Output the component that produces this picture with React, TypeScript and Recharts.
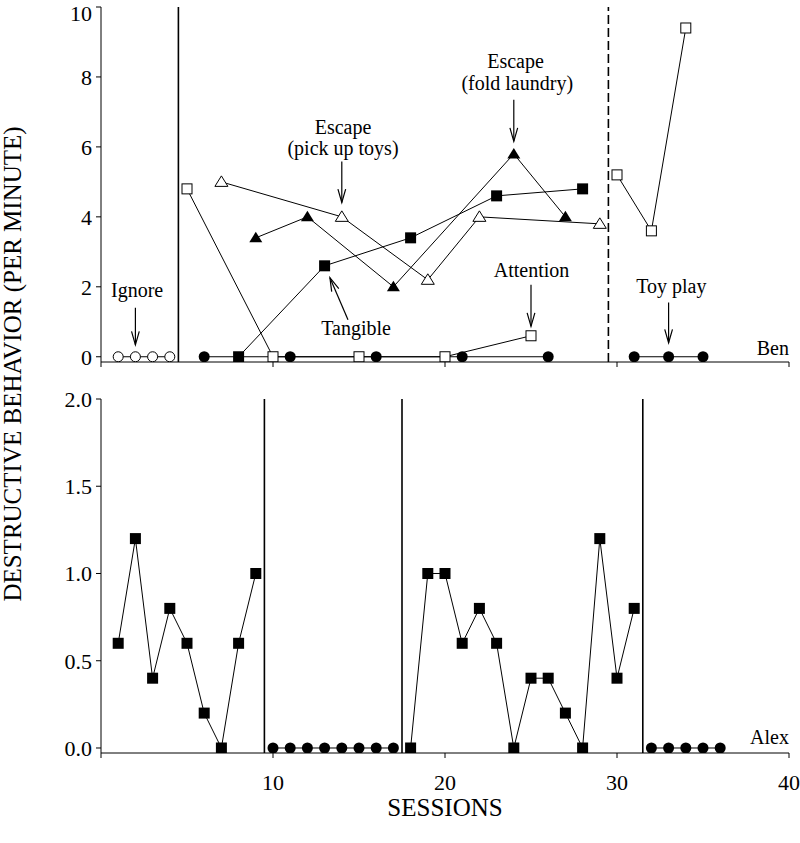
import React from 'react';
import { ScatterChart, Scatter, XAxis, YAxis, ReferenceLine, ReferenceDot } from 'recharts';

// Ben (top panel) - sessions and rate per minute, one pair per condition
const benIgnoreSessions = [1, 2, 3, 4];
const benIgnoreRate = [0, 0, 0, 0];
const benPlaySessions = [6, 11, 16, 21, 26];
const benPlayRate = [0, 0, 0, 0, 0];
const benAttentionSessions = [5, 10, 15, 20, 25];
const benAttentionRate = [4.8, 0, 0, 0, 0.6];
const benTangibleSessions = [8, 13, 18, 23, 28];
const benTangibleRate = [0, 2.6, 3.4, 4.6, 4.8];
const benToysSessions = [7, 14, 19, 22, 29];
const benToysRate = [5.0, 4.0, 2.2, 4.0, 3.8];
const benLaundrySessions = [9, 12, 17, 24, 27];
const benLaundryRate = [3.4, 4.0, 2.0, 5.8, 4.0];
const benAttention2Sessions = [30, 32, 34];
const benAttention2Rate = [5.2, 3.6, 9.4];
const benToyPlaySessions = [31, 33, 35];
const benToyPlayRate = [0, 0, 0];
const benPhaseChanges = [4.5];
const benDashedChanges = [29.5];

// Alex (bottom panel)
const alexBase1Sessions = [1, 2, 3, 4, 5, 6, 7, 8, 9];
const alexBase1Rate = [0.6, 1.2, 0.4, 0.8, 0.6, 0.2, 0, 0.6, 1.0];
const alexPlay1Sessions = [10, 11, 12, 13, 14, 15, 16, 17];
const alexPlay1Rate = [0, 0, 0, 0, 0, 0, 0, 0];
const alexBase2Sessions = [18, 19, 20, 21, 22, 23, 24, 25, 26, 27, 28, 29, 30, 31];
const alexBase2Rate = [0, 1.0, 1.0, 0.6, 0.8, 0.6, 0, 0.4, 0.4, 0.2, 0, 1.2, 0.4, 0.8];
const alexPlay2Sessions = [32, 33, 34, 35, 36];
const alexPlay2Rate = [0, 0, 0, 0, 0];
const alexPhaseChanges = [9.5, 17.5, 31.5];

const xTicks = [0, 10, 20, 30, 40];
const benYTicks = [0, 2, 4, 6, 8, 10];
const alexYTicks = [0, 0.5, 1, 1.5, 2];

// annotation text (session, rate) and arrows
const benNotes = [
  { x: 2.1, y: 1.9, text: 'Ignore' },
  { x: 14.07, y: 6.58, text: 'Escape' },
  { x: 14.07, y: 5.98, text: '(pick up toys)' },
  { x: 24.1, y: 8.45, text: 'Escape' },
  { x: 24.2, y: 7.83, text: '(fold laundry)' },
  { x: 25.03, y: 2.49, text: 'Attention' },
  { x: 14.83, y: 0.83, text: 'Tangible' },
  { x: 33.16, y: 2.01, text: 'Toy play' },
];
const benArrows = [
  { from: { x: 2, y: 1.4 }, to: { x: 2, y: 0.34 } },
  { from: { x: 14, y: 5.58 }, to: { x: 14, y: 4.41 } },
  { from: { x: 24, y: 7.35 }, to: { x: 24, y: 6.16 } },
  { from: { x: 25, y: 2.06 }, to: { x: 25, y: 0.87 } },
  { from: { x: 14.36, y: 1.06 }, to: { x: 13.31, y: 2.26 } },
  { from: { x: 33, y: 1.55 }, to: { x: 33, y: 0.4 } },
];

const ink = '#000';
const serif = '"Liberation Serif", "Times New Roman", serif';

const pts = (xs: number[], ys: number[]) => xs.map((x, i) => ({ x, y: ys[i] }));

const openCircle = (p: any) => <circle cx={p.cx} cy={p.cy} r={5} fill="#fff" stroke={ink} strokeWidth={1} />;
const filledCircle = (p: any) => <circle cx={p.cx} cy={p.cy} r={5.5} fill={ink} />;
const openSquare = (p: any) => <rect x={p.cx - 5} y={p.cy - 5} width={10} height={10} fill="#fff" stroke={ink} strokeWidth={1} />;
const filledSquare = (p: any) => <rect x={p.cx - 5.5} y={p.cy - 5.5} width={11} height={11} fill={ink} />;
const triPath = (cx: number, cy: number) => `M${cx},${cy - 6} L${cx + 6.5},${cy + 4.5} L${cx - 6.5},${cy + 4.5} Z`;
const openTriangle = (p: any) => <path d={triPath(p.cx, p.cy)} fill="#fff" stroke={ink} strokeWidth={1} />;
const filledTriangle = (p: any) => <path d={triPath(p.cx, p.cy)} fill={ink} />;

const arrowShape = (p: any) => {
  const { x1, y1, x2, y2 } = p;
  const ang = Math.atan2(y2 - y1, x2 - x1);
  const len = 14;
  const spread = 0.28;
  const ax = x2 - len * Math.cos(ang - spread);
  const ay = y2 - len * Math.sin(ang - spread);
  const bx = x2 - len * Math.cos(ang + spread);
  const by = y2 - len * Math.sin(ang + spread);
  return (
    <g>
      <line x1={x1} y1={y1} x2={x2} y2={y2} stroke={ink} strokeWidth={1.2} />
      <polyline points={`${ax},${ay} ${x2},${y2} ${bx},${by}`} fill="none" stroke={ink} strokeWidth={1.2} />
    </g>
  );
};

const noteShape = (text: string, anchor: 'middle' | 'end' = 'middle') => (p: any) => (
  <text x={p.cx} y={p.cy} dy="0.35em" textAnchor={anchor} fontFamily={serif} fontSize={20} fill={ink}>
    {text}
  </text>
);

const line = { stroke: ink, strokeWidth: 1 };
const axisProps = {
  stroke: ink,
  tickLine: { stroke: ink },
  tickSize: 5,
  tick: { fontFamily: serif, fontSize: 22, fill: ink },
};

export default function App() {
  return (
    <div style={{ position: 'absolute', left: 0, top: 0, width: 800, height: 843, background: '#fff' }}>
      <div style={{ position: 'absolute', left: 0, top: 0 }}>
        <ScatterChart width={800} height={400} margin={{ top: 7, right: 11, bottom: 8, left: 0 }}>
          <XAxis type="number" dataKey="x" domain={[0, 40]} ticks={xTicks} height={30} {...axisProps} tickFormatter={() => ''} />
          <YAxis type="number" dataKey="y" domain={[-0.15, 10]} ticks={benYTicks} width={101} tickMargin={4} allowDataOverflow {...axisProps} />
          {benPhaseChanges.map((x) => (
            <ReferenceLine key={'p' + x} x={x} stroke={ink} strokeWidth={1.6} />
          ))}
          {benDashedChanges.map((x) => (
            <ReferenceLine key={'d' + x} x={x} stroke={ink} strokeWidth={1.6} strokeDasharray="9 4" />
          ))}
          <Scatter data={pts(benIgnoreSessions, benIgnoreRate)} line={line} shape={openCircle} isAnimationActive={false} />
          <Scatter data={pts(benPlaySessions, benPlayRate)} line={line} shape={filledCircle} isAnimationActive={false} />
          <Scatter data={pts(benTangibleSessions, benTangibleRate)} line={line} shape={filledSquare} isAnimationActive={false} />
          <Scatter data={pts(benToysSessions, benToysRate)} line={line} shape={openTriangle} isAnimationActive={false} />
          <Scatter data={pts(benLaundrySessions, benLaundryRate)} line={line} shape={filledTriangle} isAnimationActive={false} />
          <Scatter data={pts(benAttentionSessions, benAttentionRate)} line={line} shape={openSquare} isAnimationActive={false} />
          <Scatter data={pts(benAttention2Sessions, benAttention2Rate)} line={line} shape={openSquare} isAnimationActive={false} />
          <Scatter data={pts(benToyPlaySessions, benToyPlayRate)} line={line} shape={filledCircle} isAnimationActive={false} />
          {benArrows.map((a, i) => (
            <ReferenceLine key={'a' + i} segment={[a.from, a.to]} shape={arrowShape} />
          ))}
          {benNotes.map((n, i) => (
            <ReferenceDot key={'n' + i} x={n.x} y={n.y} r={0} shape={noteShape(n.text)} />
          ))}
          <ReferenceDot x={40} y={0.26} r={0} shape={noteShape('Ben', 'end')} />
        </ScatterChart>
      </div>
      <div style={{ position: 'absolute', left: 0, top: 380 }}>
        <ScatterChart width={800} height={463} margin={{ top: 19, right: 11, bottom: 40, left: 0 }}>
          <XAxis
            type="number"
            dataKey="x"
            domain={[0, 40]}
            ticks={xTicks}
            height={50}
            tickMargin={16}
            {...axisProps}
            tickFormatter={(v: number) => (v === 0 ? '' : String(v))}
          />
          <YAxis
            type="number"
            dataKey="y"
            domain={[-0.0287, 2]}
            ticks={alexYTicks}
            width={101}
            tickMargin={4}
            allowDataOverflow
            {...axisProps}
            tickFormatter={(v: number) => v.toFixed(1)}
          />
          {alexPhaseChanges.map((x) => (
            <ReferenceLine key={'p' + x} x={x} stroke={ink} strokeWidth={1.6} />
          ))}
          <Scatter data={pts(alexBase1Sessions, alexBase1Rate)} line={line} shape={filledSquare} isAnimationActive={false} />
          <Scatter data={pts(alexPlay1Sessions, alexPlay1Rate)} line={line} shape={filledCircle} isAnimationActive={false} />
          <Scatter data={pts(alexBase2Sessions, alexBase2Rate)} line={line} shape={filledSquare} isAnimationActive={false} />
          <Scatter data={pts(alexPlay2Sessions, alexPlay2Rate)} line={line} shape={filledCircle} isAnimationActive={false} />
          <ReferenceDot x={40} y={0.063} r={0} shape={noteShape('Alex', 'end')} />
        </ScatterChart>
      </div>
      <svg width={800} height={843} style={{ position: 'absolute', left: 0, top: 0, pointerEvents: 'none' }}>
        <text transform="rotate(-90)" x={-364} y={21} textAnchor="middle" fontFamily={serif} fontSize={25} fill={ink}>
          DESTRUCTIVE BEHAVIOR (PER MINUTE)
        </text>
        <text x={445} y={807} dy="0.35em" textAnchor="middle" fontFamily={serif} fontSize={25} fill={ink}>
          SESSIONS
        </text>
      </svg>
    </div>
  );
}
